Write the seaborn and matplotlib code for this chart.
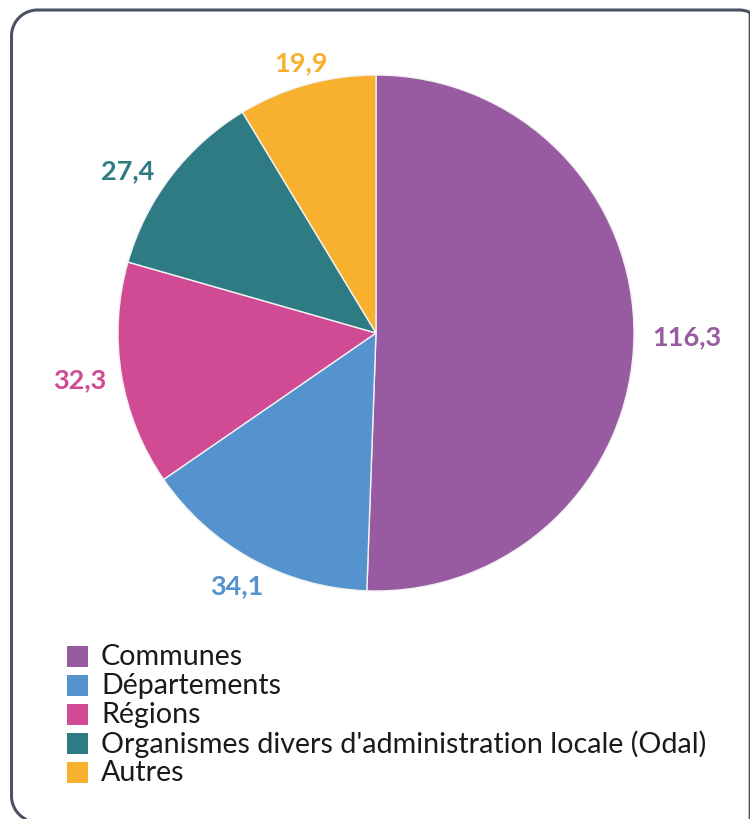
import numpy as np
import matplotlib
matplotlib.use("Agg")
import matplotlib.pyplot as plt
from matplotlib.patches import Rectangle
import seaborn as sns

# Dépenses des administrations publiques locales (Md€)
categories = [
    "Communes",
    "Départements",
    "Régions",
    "Organismes divers d'administration locale (Odal)",
    "Autres",
]
values = [116.3, 34.1, 32.3, 27.4, 19.9]
colors = ["#985ba2", "#5593cf", "#d04b94", "#2f7b84", "#f7b12f"]

# Per-label placement tweaks: radial gap (in radii) and angular nudge (degrees)
label_gap = [1.07, 1.034, 1.055, 1.035, 1.01]
label_turn = [0, 0, 0, 4.5, 0]

sns.set_theme(style="white")
plt.rcParams["font.family"] = ["Lato", "DejaVu Sans"]

W, H, DPI = 750, 820, 100
fig = plt.figure(figsize=(W / DPI, H / DPI), dpi=DPI)
fig.patch.set_facecolor("white")

# Full-figure axes in pixel units (origin top-left) for the rounded frame
bg = fig.add_axes([0, 0, 1, 1], zorder=-1)
bg.set_xlim(0, W)
bg.set_ylim(H, 0)
bg.axis("off")


def rounded_outline(x0, y0, x1, y1, rad, n=40):
    """Perimeter of a rounded rectangle, starting on the bottom edge, clockwise on screen."""
    pts = []
    arcs = [
        ((x0 + rad, y1 - rad), 90, 180),    # bottom-left
        ((x0 + rad, y0 + rad), 180, 270),   # top-left
        ((x1 - rad, y0 + rad), 270, 360),   # top-right
        ((x1 - rad, y1 - rad), 0, 90),      # bottom-right
    ]
    pts.append(((x0 + x1) / 2, y1))
    for (ccx, ccy), a0, a1 in arcs:
        t = np.deg2rad(np.linspace(a0, a1, n))
        pts.extend(zip(ccx + rad * np.cos(t), ccy + rad * np.sin(t)))
    pts.append(((x0 + x1) / 2, y1))
    return np.array(pts)


# Frame runs past the right and bottom edges; keep only the part on the canvas
outline = rounded_outline(11.5, 11, 765, 823, 26)
keep = (outline[:, 0] <= W + 0.5) & (outline[:, 1] <= H + 0.5)
bg.plot(outline[keep, 0], outline[keep, 1], color="#4b5263", lw=2.2,
        solid_capstyle="butt", solid_joinstyle="round")

# Square axes holding the pie (pixel geometry converted to figure fractions)
cx, cy, R = 376, 334, 258
ax = fig.add_axes([(cx - R) / W, (H - cy - R) / H, 2 * R / W, 2 * R / H])
palette = sns.color_palette(colors)
wedges, _ = ax.pie(
    values,
    colors=palette,
    startangle=90,
    counterclock=False,
    radius=1,
    wedgeprops=dict(edgecolor="#f2f2f2", linewidth=1.0),
)
ax.set_xlim(-1, 1)
ax.set_ylim(-1, 1)
ax.set_aspect("equal")
ax.axis("off")

# Value labels placed just outside each wedge, pushed out by their own box size
fig.canvas.draw()
renderer = fig.canvas.get_renderer()
ocx, ocy = ax.transData.transform((0, 0))
rpx = ax.transData.transform((1, 0))[0] - ocx
for w, v, col, g, dt in zip(wedges, values, colors, label_gap, label_turn):
    ang = np.deg2rad((w.theta1 + w.theta2) / 2 + dt)
    t = ax.text(0, 0, f"{v:.1f}".replace(".", ","), ha="center", va="center",
                fontsize=19.5, fontweight="bold", color=col, clip_on=False)
    bb = t.get_window_extent(renderer)
    off = abs(np.cos(ang)) * bb.width / 2 + abs(np.sin(ang)) * bb.height / 2
    r = rpx * g + off
    t.set_position(ax.transData.inverted().transform(
        (ocx + r * np.cos(ang), ocy + r * np.sin(ang) + 2)))

# Legend: colour squares with category names
lx, ly0, step, sq = 67, 657, 29, 21
for i, (cat, col) in enumerate(zip(categories, colors)):
    yc = H - (ly0 + i * step)
    fig.add_artist(Rectangle((lx, yc - sq / 2), sq, sq, transform=None,
                             facecolor=col, edgecolor="none"))
    fig.text((lx + sq + 13) / W, yc / H, cat, ha="left", va="center",
             fontsize=20.6, color="#1a1a1a")

fig.savefig("out.png", dpi=DPI)
